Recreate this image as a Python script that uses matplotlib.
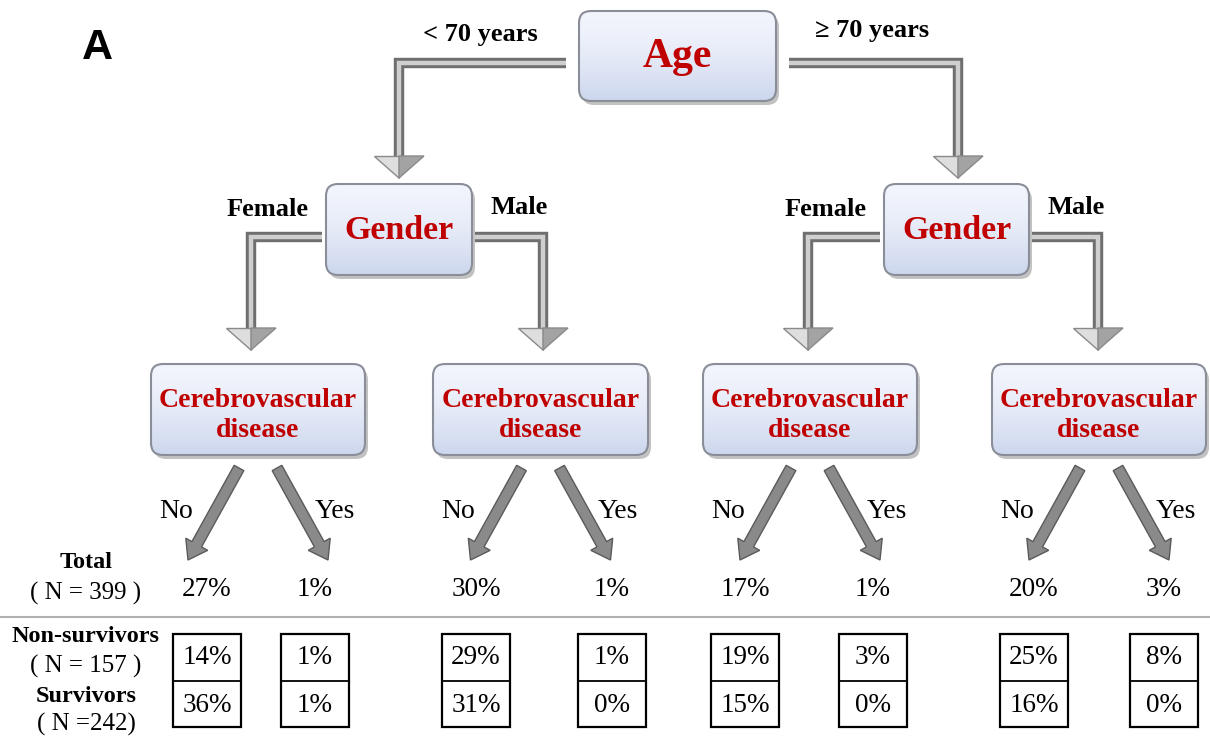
import numpy as np
import matplotlib
matplotlib.use("Agg")
import matplotlib.pyplot as plt
from matplotlib.patches import FancyBboxPatch, Polygon, FancyArrow

# tree content
root_label = "Age"
age_groups = ["< 70 years", "\u2265 70 years"]
split_label = "Gender"
genders = ["Female", "Male"]
leaf_label = "Cerebrovascular\ndisease"
branches = ["No", "Yes"]

# percentages per leaf (left to right)
total_pct = [27, 1, 30, 1, 17, 1, 20, 3]
nonsurv_pct = [14, 1, 29, 1, 19, 3, 25, 8]
surv_pct = [36, 1, 31, 0, 15, 0, 16, 0]

row_labels = ["Total", "( N = 399 )", "Non-survivors", "( N = 157 )", "Survivors", "( N =242)"]

RED = "#c00000"
SERIF = "Liberation Serif"

fig = plt.figure(figsize=(12.1, 7.4), dpi=100)
ax = fig.add_axes([0, 0, 1, 1])
ax.set_xlim(0, 1210)
ax.set_ylim(740, 0)
ax.axis("off")

grad = np.linspace(0, 1, 64).reshape(-1, 1)
top_c = np.array([0.95, 0.96, 0.99])
bot_c = np.array([0.80, 0.84, 0.93])
grad_img = top_c + (bot_c - top_c) * grad[..., None] ** 1.5


def node(x0, y0, x1, y1, text, size, dy=1, ls=1.0):
    # shadow
    sh = FancyBboxPatch((x0 + 3, y0 + 4), x1 - x0, y1 - y0,
                        boxstyle="round,pad=0,rounding_size=12",
                        fc="#9a9a9a", ec="none", alpha=0.6, zorder=2)
    ax.add_patch(sh)
    box = FancyBboxPatch((x0, y0), x1 - x0, y1 - y0,
                         boxstyle="round,pad=0,rounding_size=12",
                         fc="none", ec="#8a8e98", lw=1.5, zorder=4)
    ax.add_patch(box)
    im = ax.imshow(grad_img, extent=(x0, x1, y1, y0), origin="upper",
                   aspect="auto", zorder=3, interpolation="bilinear")
    im.set_clip_path(box)
    ax.text((x0 + x1) / 2, (y0 + y1) / 2 + dy, text, color=RED, fontsize=size,
            fontweight="bold", family=SERIF, ha="center", va="center",
            linespacing=ls, zorder=5)


def elbow(xs, ys, tip_y):
    ax.plot(xs, ys, color="#6f6f6f", lw=7.5, solid_capstyle="butt",
            solid_joinstyle="miter", zorder=1)
    ax.plot(xs, ys, color="#cfcfcf", lw=3.2, solid_capstyle="butt",
            solid_joinstyle="miter", zorder=1)
    xh = xs[-1]
    top = tip_y - 22
    ax.add_patch(Polygon([[xh - 25, top], [xh, top], [xh, tip_y]],
                         closed=True, fc="#dedede", ec="#8a8a8a", lw=1, zorder=1))
    ax.add_patch(Polygon([[xh, top], [xh + 25, top], [xh, tip_y]],
                         closed=True, fc="#a3a3a3", ec="#8a8a8a", lw=1, zorder=1))


ax.text(97, 48, "A", fontsize=31, fontweight="bold", family="Liberation Sans",
        ha="center", va="center")

# root
node(579, 11, 776, 101, root_label, 30)
ax.text(480, 34, age_groups[0], fontsize=19, fontweight="bold", family=SERIF,
        ha="center", va="center")
ax.text(872, 30, age_groups[1], fontsize=19, fontweight="bold", family=SERIF,
        ha="center", va="center")
elbow([566, 399, 399], [63, 63, 156], 178)
elbow([789, 958, 958], [63, 63, 156], 178)

# gender nodes
gender_boxes = [(326, 184, 472, 275), (884, 184, 1029, 275)]
gender_arms = [((322, 251), (475, 543)), ((880, 808), (1032, 1098))]
for (x0, y0, x1, y1), (fa, ma) in zip(gender_boxes, gender_arms):
    node(x0, y0, x1, y1, split_label, 24.5)
    elbow([fa[0], fa[1], fa[1]], [237, 237, 330], 350)
    elbow([ma[0], ma[1], ma[1]], [237, 237, 330], 350)
    ax.text(x0 - 58, 210, genders[0], fontsize=19, fontweight="bold", family=SERIF,
            ha="center", va="center")
    ax.text(x1 + 47, 207, genders[1], fontsize=19, fontweight="bold", family=SERIF,
            ha="center", va="center")

# leaf nodes
leaf_boxes = [(151, 364, 365, 455), (433, 364, 648, 455),
              (703, 364, 917, 455), (992, 364, 1206, 455)]
leaf_x = [207, 315, 476, 612, 745, 873, 1034, 1164]
for k, (x0, y0, x1, y1) in enumerate(leaf_boxes):
    node(x0, y0, x1, y1, leaf_label, 20, dy=6, ls=1.3)
    cx = (x0 + x1) / 2
    for side, lab in zip((-1, 1), branches):
        sx, sy = cx + side * 19, 468
        ex, ey = cx + side * 70, 560
        ax.add_patch(FancyArrow(sx, sy, ex - sx, ey - sy, width=11,
                                head_width=25, head_length=18,
                                length_includes_head=True, fc="#8a8a8a",
                                ec="#5a5a5a", lw=1, zorder=1))
        lx = cx - 82 if side < 0 else cx + 77
        ax.text(lx, 512, lab, fontsize=20, family=SERIF, ha="center", va="center")

# totals
for i, p in enumerate(total_pct):
    ax.text(leaf_x[i], 590, f"{p}%", fontsize=19.5, family=SERIF,
            ha="center", va="center")

ax.axhline(617, color="#b0b0b0", lw=1.5)

# row labels
label_y = [563, 593, 637, 666, 696, 724]
for j, (t, yy) in enumerate(zip(row_labels, label_y)):
    ax.text(86, yy, t, fontsize=17.5 if j % 2 == 0 else 18,
            fontweight="bold" if j % 2 == 0 else "normal", family=SERIF,
            ha="center", va="center")

# outcome table
bw = 68
for i in range(len(leaf_x)):
    x0 = leaf_x[i] - bw / 2
    ax.add_patch(plt.Rectangle((x0, 634), bw, 93, fc="none", ec="black",
                               lw=1.6, zorder=3))
    ax.plot([x0, x0 + bw], [681, 681], color="black", lw=1.3, zorder=3)
    ax.text(leaf_x[i], 658, f"{nonsurv_pct[i]}%", fontsize=19.5, family=SERIF,
            ha="center", va="center")
    ax.text(leaf_x[i], 705, f"{surv_pct[i]}%", fontsize=19.5, family=SERIF,
            ha="center", va="center")

fig.savefig("out.png", dpi=100)
